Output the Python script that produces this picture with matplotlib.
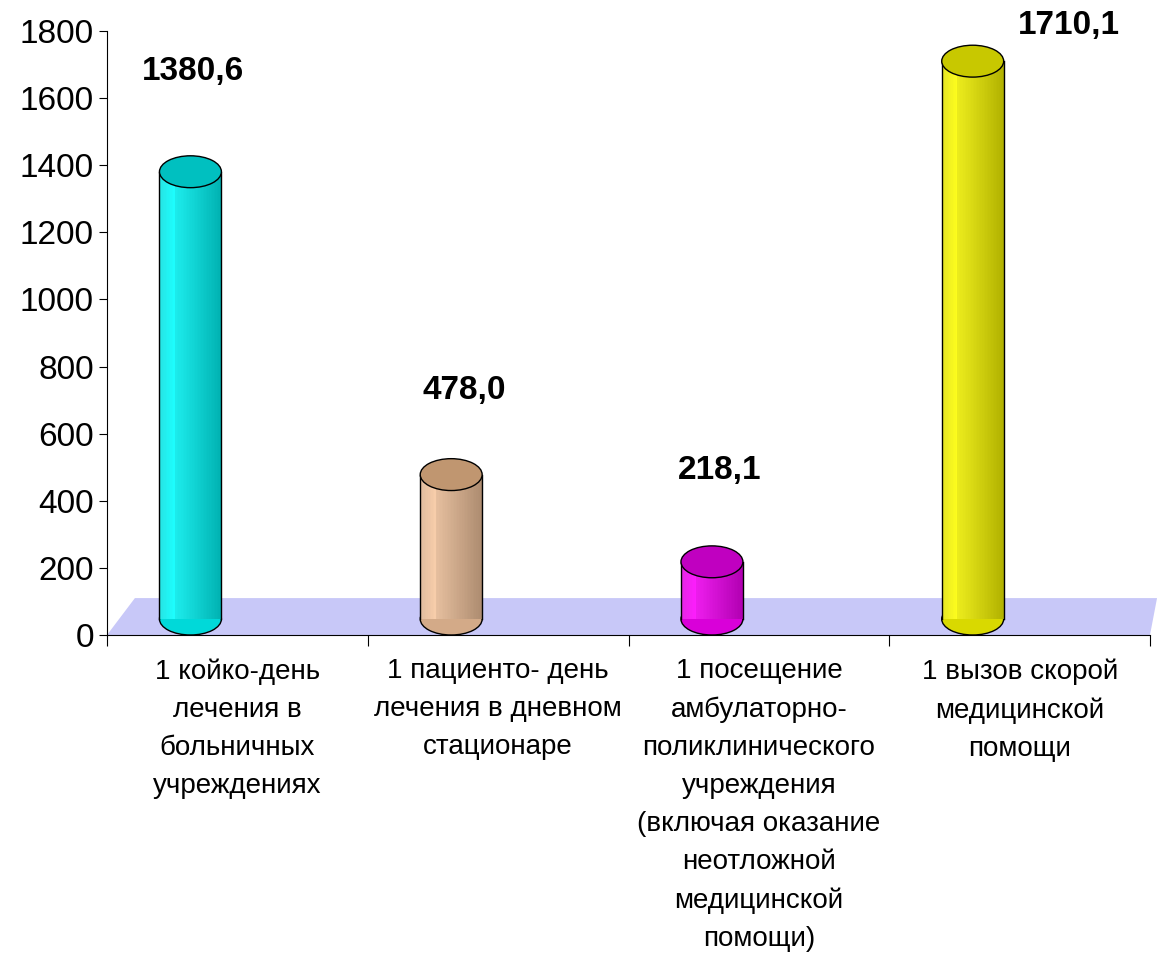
import numpy as np
import matplotlib.pyplot as plt
from matplotlib.patches import Ellipse, Polygon, Rectangle
from matplotlib.colors import to_rgb

plt.rcParams['font.family'] = ['Liberation Sans', 'DejaVu Sans']

categories = [
    '1 койко-день\nлечения в\nбольничных\nучреждениях',
    '1 пациенто- день\nлечения в дневном\nстационаре',
    '1 посещение\nамбулаторно-\nполиклинического\nучреждения\n(включая оказание\nнеотложной\nмедицинской\nпомощи)',
    '1 вызов скорой\nмедицинской\nпомощи',
]
values = [1380.6, 478.0, 218.1, 1710.1]
value_labels = ['1380,6', '478,0', '218,1', '1710,1']
label_y = [1680, 730, 490, 1815]
label_dx = [-0.17, -0.13, -0.15, 0.19]
body_colors = ['#00ffff', '#f8c8a0', '#ff00ff', '#ffff00']
top_colors = ['#00c0c0', '#c09670', '#c000c0', '#c8c800']

fig = plt.figure(figsize=(11.57, 9.59), dpi=100)
ax = fig.add_axes([107 / 1157, (959 - 635) / 959, (1150 - 107) / 1157, (635 - 31) / 959])
ax.set_xlim(0, 4)
ax.set_ylim(0, 1800)

# floor
ax.add_patch(Polygon([(0, 0), (4, 0), (4.027, 110), (0.107, 110)], closed=True,
                     facecolor='#c8c8f8', edgecolor='none', clip_on=False, zorder=1))

w = 0.2375
eh = 95
for i, v in enumerate(values):
    xc = i + 0.5 - 0.18
    base = np.array(to_rgb(body_colors[i]))
    n = 40
    y0 = eh / 2
    for k in range(n):
        t = k / (n - 1)
        shade = 1.0 - 0.3 * t if t > 0.25 else 0.9 + 0.4 * t
        c = np.clip(base * shade + (1 - base) * 0.15 * (1 - t), 0, 1)
        ax.add_patch(Rectangle((xc - w / 2 + k * w / n, y0), w / n, v - y0, facecolor=c,
                               edgecolor='none', zorder=2, clip_on=False))
    ax.add_patch(Ellipse((xc, y0), w, eh, facecolor=base * 0.85, edgecolor='black',
                         lw=1, zorder=1.9, clip_on=False))
    ax.plot([xc - w / 2, xc - w / 2], [y0, v], color='black', lw=1, zorder=3)
    ax.plot([xc + w / 2, xc + w / 2], [y0, v], color='black', lw=1, zorder=3)
    ax.add_patch(Ellipse((xc, v), w, eh, facecolor=top_colors[i], edgecolor='black',
                         lw=1, zorder=4, clip_on=False))
    ax.text(i + 0.5 + label_dx[i], label_y[i], value_labels[i], ha='center', va='center',
            fontsize=24, fontweight='bold')

for i, c in enumerate(categories):
    ax.text(i + 0.5, -70, c, ha='center', va='top', fontsize=20, linespacing=1.6)

for s in ['top', 'right']:
    ax.spines[s].set_visible(False)
ax.set_xticks(range(5))
ax.set_xticklabels([])
ax.tick_params(axis='x', direction='out', length=8)
ax.set_yticks(range(0, 1801, 200))
ax.tick_params(axis='y', direction='out', length=6, labelsize=24)

fig.savefig('out.png', dpi=100)
